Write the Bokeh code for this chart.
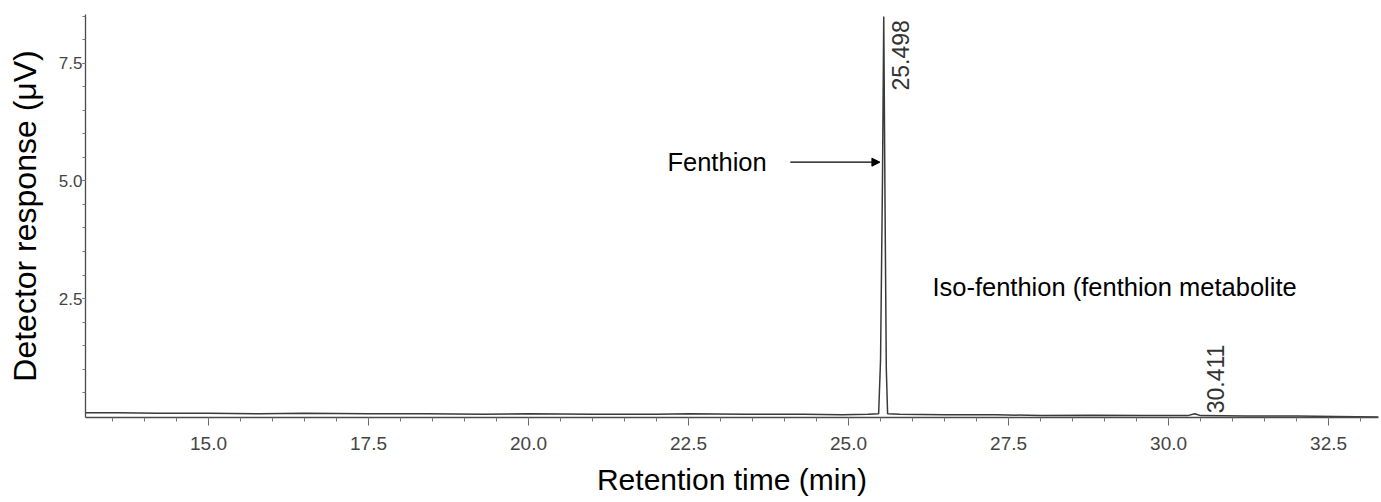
from bokeh.plotting import figure
from bokeh.models import Range1d, FixedTicker, Arrow, NormalHead, ColumnDataSource
from bokeh.core.properties import value
from bokeh.embed import file_html
from bokeh.resources import INLINE
import numpy as np

# ---- data ----
time_min = [13.08, 13.6, 14.2, 15.0, 15.8, 16.5, 17.5, 18.4, 19.3, 20.0,
            21.0, 22.0, 22.5, 23.4, 24.3, 24.9, 25.3, 25.47, 25.50, 25.53,
            25.55, 25.57, 25.59, 25.61, 25.8, 26.5, 27.3, 28.0, 28.8, 29.6,
            30.3, 30.41, 30.5, 31.2, 32.0, 32.6, 33.28]
response_uv = [0.07, 0.07, 0.06, 0.06, 0.05, 0.06, 0.05, 0.05, 0.04, 0.05,
               0.04, 0.04, 0.05, 0.04, 0.04, 0.03, 0.04, 0.05, 1.2, 5.0,
               8.5, 4.5, 1.0, 0.05, 0.04, 0.03, 0.03, 0.01, 0.02, 0.01,
               0.01, 0.05, 0.01, 0.0, 0.0, -0.01, -0.02]

peak_times = [25.498, 30.411]
peak_labels = ["25.498", "30.411"]

x_major_ticks = [15.0, 17.5, 20.0, 22.5, 25.0, 27.5, 30.0, 32.5]
y_major_ticks = [2.5, 5.0, 7.5]

FONT = "Liberation Sans"

p = figure(width=1381, height=502, output_backend="svg", toolbar_location=None,
           x_range=Range1d(13.078, 33.28), y_range=Range1d(-0.03, 8.54),
           min_border_left=85, min_border_right=3, min_border_top=14,
           min_border_bottom=85)
p.outline_line_color = None
p.xgrid.visible = False
p.ygrid.visible = False

src = ColumnDataSource(dict(t=time_min, r=response_uv))
p.line("t", "r", source=src, line_color="#3a3a3a", line_width=1.5)

# axes
x_minor = [13.5 + 0.5 * i for i in range(40)]
y_minor = [0.5 * i for i in range(1, 18)]
p.xaxis.ticker = FixedTicker(ticks=x_major_ticks, minor_ticks=x_minor)
p.yaxis.ticker = FixedTicker(ticks=y_major_ticks, minor_ticks=y_minor)
p.xaxis.major_label_overrides = {t: f"{t:.1f}" for t in x_major_ticks}
p.yaxis.major_label_overrides = {t: f"{t:.1f}" for t in y_major_ticks}

for ax in (p.xaxis[0], p.yaxis[0]):
    ax.axis_line_color = "#4a4a4a"
    ax.axis_line_width = 1.3
    ax.major_tick_line_color = "#666666"
    ax.minor_tick_line_color = "#777777"
    ax.major_tick_in = 0
    ax.minor_tick_in = 0
    ax.major_label_text_font = FONT
    ax.major_label_text_color = "#444444"
    ax.axis_label_text_font = FONT
    ax.axis_label_text_font_style = "normal"
    ax.axis_label_text_color = "black"

p.xaxis.major_tick_out = 8
p.xaxis.minor_tick_out = 4
p.xaxis.major_label_standoff = 11
p.xaxis.major_label_text_font_size = "19px"
p.xaxis.major_label_text_line_height = 1.0
p.xaxis.axis_label = "Retention time (min)"
p.xaxis.axis_label_text_font_size = "30px"
p.xaxis.axis_label_text_line_height = 1.0
p.xaxis.axis_label_standoff = 10

p.yaxis.major_tick_out = 3
p.yaxis.minor_tick_out = 3
p.yaxis.major_label_standoff = 0
p.yaxis.major_label_text_font_size = "17px"
p.yaxis.axis_label = "Detector response (\u03bcV)"
p.yaxis.axis_label_text_font_size = "32px"
p.yaxis.axis_label_standoff = 13

# peak retention-time labels
lab_off = 0.32
p.text(x=[peak_times[0] + lab_off], y=[8.42], text=[peak_labels[0]],
       angle=np.pi / 2, text_align="right", text_baseline="middle",
       text_font=value(FONT), text_font_size="23px", text_color="#333333")
p.text(x=[peak_times[1] + lab_off], y=[0.06], text=[peak_labels[1]],
       angle=np.pi / 2, text_align="left", text_baseline="middle",
       text_font=value(FONT), text_font_size="23px", text_color="#333333")

# annotations
p.text(x=[22.17], y=[5.40], text=["Fenthion"], text_align="left",
       text_baseline="middle", text_font=value(FONT), text_font_size="25.5px",
       text_color="black")
p.add_layout(Arrow(x_start=24.09, y_start=5.40, x_end=25.49, y_end=5.40,
                   line_color="black", line_width=1.2,
                   end=NormalHead(size=8, fill_color="black", line_color="black")))
p.text(x=[26.31], y=[2.74], text=["Iso-fenthion (fenthion metabolite"],
       text_align="left", text_baseline="middle", text_font=value(FONT),
       text_font_size="25.5px", text_color="black")

open("out.html", "w").write(file_html(p, INLINE))
